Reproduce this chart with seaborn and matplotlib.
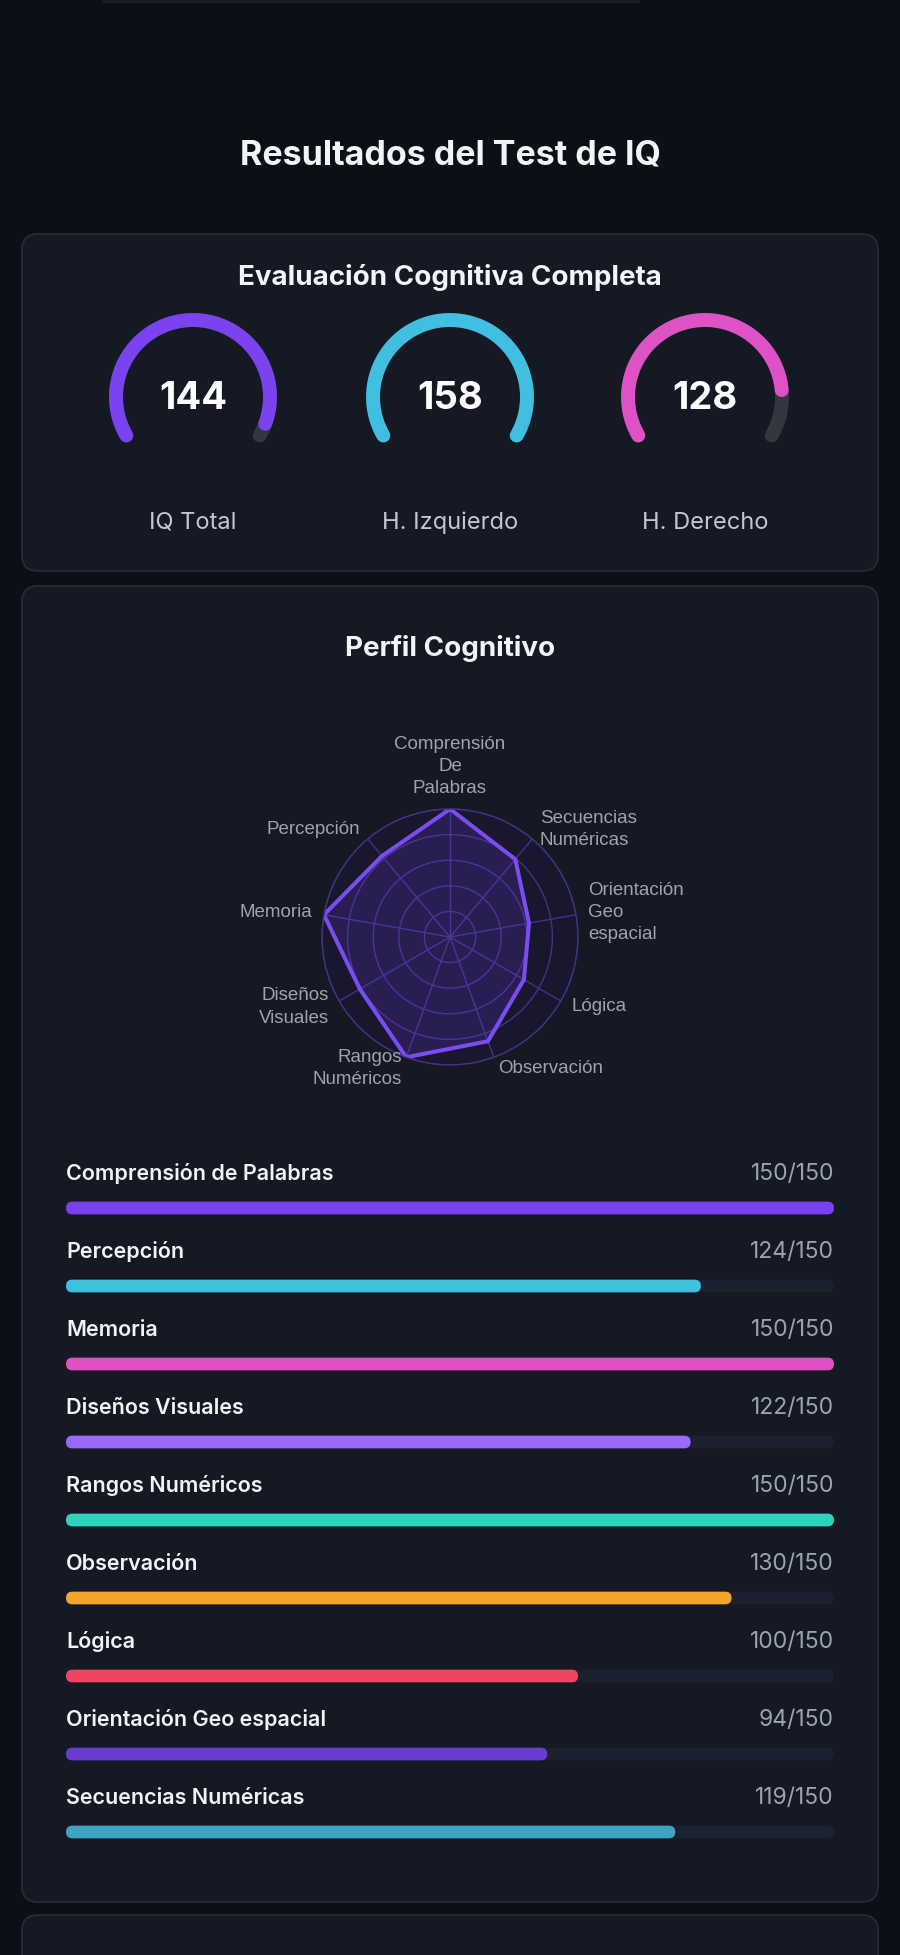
import numpy as np
import matplotlib
matplotlib.use("Agg")
import matplotlib.pyplot as plt
from matplotlib.patches import FancyBboxPatch, Rectangle
import seaborn as sns

# datos
gauge_names = ["IQ Total", "H. Izquierdo", "H. Derecho"]
gauge_values = [144, 158, 128]
gauge_colors = ["#7b42f0", "#41bfe0", "#df52c6"]
gauge_max = 150

categorias = ["Comprensión de Palabras", "Percepción", "Memoria", "Diseños Visuales",
              "Rangos Numéricos", "Observación", "Lógica", "Orientación Geo espacial",
              "Secuencias Numéricas"]
radar_labels = ["Comprensión\nDe\nPalabras", "Percepción", "Memoria", "Diseños\nVisuales",
                "Rangos\nNuméricos", "Observación", "Lógica", "Orientación\nGeo\nespacial",
                "Secuencias\nNuméricas"]
puntajes = [150, 124, 150, 122, 150, 130, 100, 94, 119]
puntaje_max = 150
colores = ["#7b3ff2", "#40c0df", "#df50c3", "#9c68f7", "#2ed3bb",
           "#f3a42a", "#ef4560", "#6a3dcf", "#3ea4c4"]

# colores de fondo
PAGE = "#0c0f16"
CARD = "#141924"
BORDER = "#252b39"
TRACK = "#1b212e"

sns.set_theme(style="white")
plt.rcParams["font.family"] = ["Inter", "DejaVu Sans"]

W, H = 900, 1955
fig = plt.figure(figsize=(W / 100, H / 100), dpi=100, facecolor=PAGE)


def px_axes(x0, y0, w, h, **kw):
    return fig.add_axes([x0 / W, 1 - (y0 + h) / H, w / W, h / H], **kw)


bg = fig.add_axes([0, 0, 1, 1])
bg.set_xlim(0, W)
bg.set_ylim(H, 0)
bg.axis("off")
bg.set_facecolor(PAGE)

bg.add_patch(Rectangle((103, 0), 537, 2.5, fc="#1d1f25", ec="none"))
for (x0, y0, w, h) in [(22, 234, 856, 337), (22, 586, 856, 1316), (22, 1915, 856, 120)]:
    bg.add_patch(FancyBboxPatch((x0, y0), w, h, boxstyle="round,pad=0,rounding_size=16",
                                fc=CARD, ec=BORDER, lw=1.3))

bg.text(450, 155, "Resultados del Test de IQ", color="#f2f4f7", fontsize=24.5,
        fontweight="bold", ha="center", va="center")
bg.text(450, 277, "Evaluación Cognitiva Completa", color="#f2f4f7", fontsize=20,
        fontweight="bold", ha="center", va="center")
bg.text(450, 648, "Perfil Cognitivo", color="#f2f4f7", fontsize=20,
        fontweight="bold", ha="center", va="center")

# gauges
gauge_cx = [193, 450, 705]
gauge_cy = 397
for cx, name, val, col in zip(gauge_cx, gauge_names, gauge_values, gauge_colors):
    gax = px_axes(cx - 96, gauge_cy - 96, 192, 192, projection="polar")
    gax.set_ylim(0, 96)
    gax.axis("off")
    gax.patch.set_alpha(0)
    t = min(val / gauge_max, 1.0)
    th_full = np.deg2rad(np.linspace(210, -30, 200))
    th_val = np.deg2rad(np.linspace(210, 210 - 240 * t, 200))
    gax.plot(th_full, np.full_like(th_full, 77), color="#34373f", lw=10,
             solid_capstyle="round", clip_on=False)
    gax.plot(th_val, np.full_like(th_val, 77), color=col, lw=10,
             solid_capstyle="round", clip_on=False)
    bg.text(cx, gauge_cy + 2, str(val), color="white", fontsize=27.5, fontweight="bold",
            ha="center", va="center")
    bg.text(cx, 523, name, color="#c3c7d0", fontsize=17, ha="center", va="center")

# radar
n = len(puntajes)
ang = 2 * np.pi * np.arange(n) / n
rax = px_axes(450 - 128, 937 - 128, 256, 256, projection="polar")
rax.set_theta_zero_location("N")
rax.set_theta_direction(1)
rax.set_ylim(0, puntaje_max)
rax.set_facecolor("#18172d")
rax.set_rgrids([30, 60, 90, 120, 150], labels=[""] * 5)
rax.set_thetagrids(np.rad2deg(ang), labels=[""] * n)
rax.grid(True, color="#413385", lw=1.0)
rax.spines["polar"].set_color("#413385")
rax.spines["polar"].set_linewidth(1.0)
th = np.append(ang, ang[0])
vv = np.append(puntajes, puntajes[0])
rax.fill(th, vv, color="#6a3de8", alpha=0.2, lw=0)
rax.plot(th, vv, color="#7b4cf0", lw=2.9)
for a, lab in zip(ang, radar_labels):
    s = np.sin(a)
    if abs(s) < 0.05:
        ha = "center"
    else:
        ha = "right" if s > 0 else "left"
    va = "bottom" if np.cos(a) > 0.95 else "center"
    rax.text(a, 164, lab, ha=ha, va=va, color="#9ea3ae", fontsize=13.5,
             family=["Liberation Sans", "DejaVu Sans"], linespacing=1.4, clip_on=False)

# barras
unit = 78
bar_h = 12.7
pxx = 768 / puntaje_max
bax = px_axes(66, 1208 - 0.9 * unit, 768, 9.5 * unit)
sns.barplot(x=[puntaje_max] * n, y=categorias, orient="h", color=TRACK, width=bar_h / unit,
            saturation=1, ax=bax)
sns.barplot(x=puntajes, y=categorias, hue=categorias, palette=colores, orient="h",
            width=bar_h / unit, saturation=1, legend=False, ax=bax)
bax.set_xlim(0, puntaje_max)
bax.set_ylim(8.6, -0.9)
bax.axis("off")
bax.patch.set_alpha(0)

asp = pxx / unit
rx = (bar_h / 2) / pxx
for p in list(bax.patches):
    x, y, w, h = p.get_x(), p.get_y(), p.get_width(), p.get_height()
    fc = p.get_facecolor()
    p.remove()
    bax.add_patch(FancyBboxPatch((x, y), w, h, boxstyle=f"round,pad=0,rounding_size={rx}",
                                 mutation_aspect=asp, fc=fc, ec="none"))

for i, (cat, v) in enumerate(zip(categorias, puntajes)):
    bax.text(0, i - 0.44, cat, ha="left", va="center", color="#f1f3f6", fontsize=15.5,
             fontweight="semibold")
    bax.text(puntaje_max, i - 0.44, f"{v}/{puntaje_max}", ha="right", va="center",
             color="#9ca3af", fontsize=16.5)

fig.savefig("out.png", dpi=100, facecolor=PAGE)
